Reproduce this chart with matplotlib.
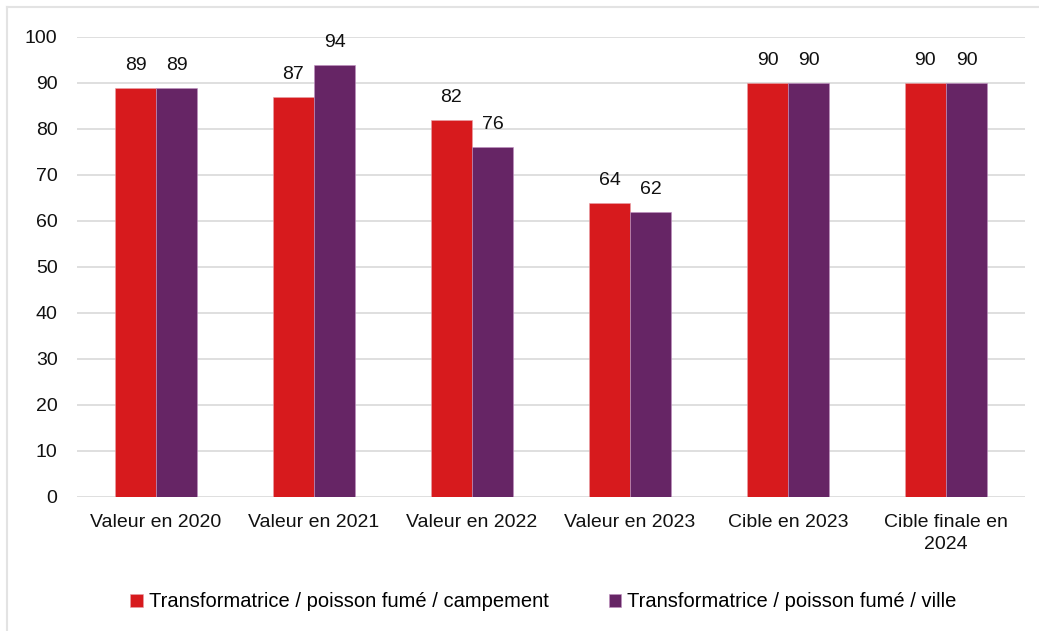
import matplotlib
matplotlib.use("Agg")
import matplotlib.pyplot as plt
from matplotlib.lines import Line2D
import numpy as np

categories = ["Valeur en 2020", "Valeur en 2021", "Valeur en 2022",
              "Valeur en 2023", "Cible en 2023", "Cible finale en\n2024"]
campement = [89, 87, 82, 64, 90, 90]
ville = [89, 94, 76, 62, 90, 90]
series_names = ["Transformatrice / poisson fumé / campement",
                "Transformatrice / poisson fumé / ville"]

RED = "#D71A1D"
PURPLE = "#662565"

plt.rcParams["font.family"] = ["Liberation Sans", "DejaVu Sans"]

fig = plt.figure(figsize=(10.39, 6.31), dpi=100)
ax = fig.add_axes([0.0741, 0.2124, 0.9124, 0.729])

x = np.arange(len(categories))
w = 0.26
b1 = ax.bar(x - w / 2, campement, w, color=RED, edgecolor="#e8a0a8", linewidth=0.4,
            label=series_names[0], zorder=3)
b2 = ax.bar(x + w / 2, ville, w, color=PURPLE, edgecolor="#c090c0", linewidth=0.4,
            label=series_names[1], zorder=3)
ax.bar_label(b1, padding=10, fontsize=14, color="#111111")
ax.bar_label(b2, padding=10, fontsize=14, color="#111111")

ax.set_xlim(-0.5, len(categories) - 0.5)
ax.set_ylim(0, 100)
ax.set_yticks(range(0, 101, 10))
ax.set_xticks(x)
ax.set_xticklabels(categories, fontsize=14, color="#111111", linespacing=1.45)
ax.tick_params(axis="y", labelsize=14, colors="#111111", length=0, pad=14)
ax.tick_params(axis="x", length=0, pad=12)
ax.grid(axis="y", color="#D9D9D9", linewidth=1.2, zorder=0)
for sp in ax.spines.values():
    sp.set_visible(False)

ax.legend(loc="center", bbox_to_anchor=(0.492, -0.228), ncol=2, frameon=False,
          fontsize=14.5, handlelength=0.6, handleheight=0.6, handletextpad=0.3,
          columnspacing=3.0)

# light frame on top and left only, as in the source
fig.add_artist(Line2D([0.007, 0.007], [0.0, 0.989], transform=fig.transFigure,
                      color="#E3E3E3", linewidth=1.5))
fig.add_artist(Line2D([0.007, 1.0], [0.989, 0.989], transform=fig.transFigure,
                      color="#E3E3E3", linewidth=1.5))

fig.savefig("out.png", dpi=100, facecolor="white")
